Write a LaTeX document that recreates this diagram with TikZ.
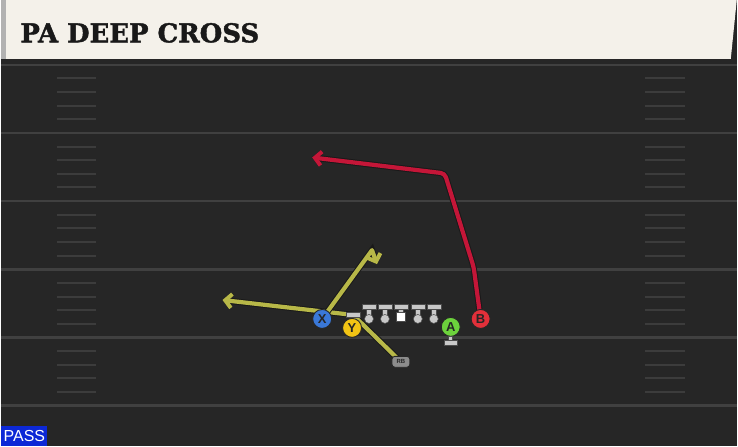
\documentclass[tikz,border=0pt]{standalone}
\usepackage{fontspec}
\setsansfont{Liberation Sans}
\newfontfamily\slabfont{DejaVu Serif}[BoldFeatures={FakeBold=1.6}]
\usetikzlibrary{arrows.meta,positioning}

\definecolor{fieldbg}{RGB}{38,38,38}
\definecolor{headbg}{RGB}{244,241,234}
\definecolor{yardgray}{RGB}{64,64,64}
\definecolor{hashgray}{RGB}{60,60,60}
\definecolor{redroute}{RGB}{196,22,56}
\definecolor{yelroute}{RGB}{184,184,72}
\definecolor{passblue}{RGB}{12,40,214}
\definecolor{xblue}{RGB}{58,120,216}
\definecolor{yyellow}{RGB}{242,196,20}
\definecolor{agreen}{RGB}{108,210,60}
\definecolor{bred}{RGB}{226,48,58}
\definecolor{olgray}{RGB}{200,200,200}

\pgfdeclarelayer{field}
\pgfdeclarelayer{routes}
\pgfsetlayers{field,routes,main}

\begin{document}
\begin{tikzpicture}[%
    x=1pt, y=-1pt,              % pixel grid, y going down
    >={Straight Barb[length=6.5pt,width=14pt,line width=4pt]},
    ]
% -------------------------------------------------
% Styles
\tikzset{
  player/.style={circle, draw=black!85, line width=0.9pt, minimum size=19pt,
    inner sep=0pt, font=\sffamily\bfseries\fontsize{13}{13}\selectfont, text=black!85},
  route/.style={line width=4.2pt, line cap=round, line join=round,
    preaction={draw=black!90, line width=6.2pt}},
  yardline/.style={draw=yardgray, line width=2.5pt},
  hash/.style={draw=hashgray, line width=2pt},
  olbar/.style={fill=olgray, draw=black!70, line width=0.5pt},
}
% -------------------------------------------------
% Field and header
\begin{pgfonlayer}{field}
\fill[fieldbg] (0,0) rectangle (738,448);
\foreach \k in {0,...,4} {
  \draw[yardline] (0,65+68.4*\k) -- (738,65+68.4*\k);
  \foreach \h in {1,...,4} {
    \draw[hash] (56,65+68.4*\k+13.68*\h) -- (95,65+68.4*\k+13.68*\h);
    \draw[hash] (646,65+68.4*\k+13.68*\h) -- (686,65+68.4*\k+13.68*\h);
  }
}
\draw[yardline] (0,407) -- (738,407);
\fill[black!85] (0,59) rectangle (738,64);
\fill[headbg] (0,0) -- (738,0) -- (732,59) -- (0,59) -- cycle;
\fill[black!30] (0,0) rectangle (5,59);
\end{pgfonlayer}
\node[anchor=west, inner sep=0pt, text=black!90,
  font=\slabfont\bfseries\fontsize{26}{26}\selectfont] (title) at (19,33) {PA DEEP CROSS};
\node[anchor=south west, fill=passblue, text=white, inner sep=0pt,
  minimum width=46pt, minimum height=20pt,
  font=\sffamily\fontsize{16}{16}\selectfont] (pass) at (0,448) {PASS};
% -------------------------------------------------
% Route points
\coordinate (ybar) at (353,316);
\coordinate (flatend) at (222,301);
\coordinate (curltop) at (372,251);
\coordinate (curlend) at (377,265);
\coordinate (bbend) at (474,268);
\coordinate (bpost) at (445,174);
\coordinate (bend) at (312,158);
% Players
\node[player, fill=xblue] (X) at (322,320) {X};
\node[player, fill=yyellow] (Y) at (352,329) {Y};
\node[player, fill=agreen] (A) at (451,328) {A};
\node[player, fill=bred] (B) at (481,320) {B};
\node[draw=black!85, fill=black!45, rounded corners=3pt, line width=0.9pt,
  minimum width=18pt, minimum height=11pt, inner sep=0pt, text=black!85,
  font=\sffamily\bfseries\fontsize{6}{6}\selectfont] (RB) at (401,363) {RB};
% -------------------------------------------------
% Routes
\begin{pgfonlayer}{routes}
\draw[route, redroute, ->, rounded corners=4pt] (B.center) -- (bbend) -- (bpost) -- (bend);
\draw[route, yelroute, ->] (RB.center) -- (ybar) -- (flatend);
\draw[route, yelroute, ->] (X.center) -- (curltop) -- (curlend);
\end{pgfonlayer}
% Stance bars
\filldraw[olbar] (346,313) rectangle (360,318);
\filldraw[olbar] (449,337) rectangle (453,341);
\filldraw[olbar] (444,341) rectangle (458,346);
% Offensive line
\foreach \x/\n in {369/lt, 385/lg, 418/rg, 434/rt} {
  \filldraw[olbar] (\x-7,305) rectangle (\x+7,310);
  \filldraw[olbar] (\x-2.5,310) rectangle (\x+2.5,317);
  \node[circle, olbar, minimum size=9pt, inner sep=0pt] (\n) at (\x,320) {};
}
\filldraw[olbar] (394,305) rectangle (408,310);
\filldraw[olbar] (398.5,310) rectangle (403.5,314);
\node[draw=black!70, fill=white, minimum size=9pt, inner sep=0pt] (c) at (401,318) {};
% -------------------------------------------------
\end{tikzpicture}
\end{document}
